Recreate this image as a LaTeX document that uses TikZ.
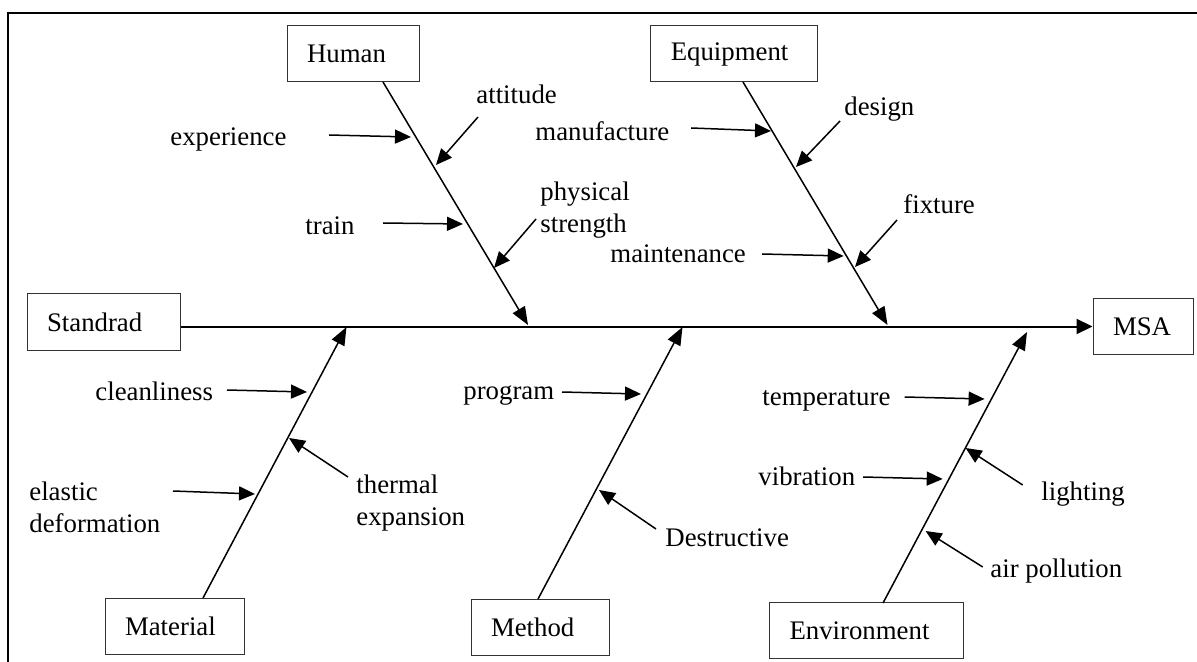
\documentclass[tikz,border=0pt]{standalone}
\usepackage{fontspec}
\setmainfont{Liberation Serif}
\usetikzlibrary{arrows.meta}

\begin{document}
\begin{tikzpicture}[x=0.5pt,y=-0.5pt,font=\fontsize{13.4}{16}\selectfont,
	cause/.style={draw=black!80,line width=0.5pt,minimum height=28pt,inner xsep=10pt,text width=#1,align=left},
	bone/.style={line width=0.75pt,-{Triangle[length=9pt,width=7pt]}},
	sub/.style={line width=0.75pt,-{Triangle[length=8pt,width=7pt]}},
	lbl/.style={anchor=west,align=left,inner sep=0pt}]
					\useasboundingbox (0,0) rectangle (1197,662);
					\draw[line width=1pt] (8,670) -- (8,13) -- (1205,13);
					% causes
					\node[cause=56.5pt] (std) at (103.5,322) {Standrad};
					\node[cause=46pt] (hum) at (353,54) {Human};
					\node[cause=63.5pt] (eqp) at (734.3,54) {Equipment};
					\node[cause=30pt] (msa) at (1143,326.5) {MSA};
					\node[cause=49.5pt] (mat) at (174.5,626) {Material};
					\node[cause=49pt] (met) at (540,627) {Method};
					\node[cause=77pt] (env) at (866.5,630.5) {Environment};
					% spine and bones
					\draw[line width=1pt,-{Triangle[length=8pt,width=7.5pt]}] (std.east |- msa.west) -- (msa.west);
					\foreach \n/\a/\b/\c/\d in {hum/383/82/528/325, eqp/743/82/887.5/325, mat/203/598/346.5/327, met/538/599/682.5/327, env/883/603/1027/332}
					{
						\coordinate (\n-s) at (\a,\b);
						\coordinate (\n-e) at (\c,\d);
						\draw[bone] (\n-s) -- (\n-e);
					}
					% labels
					\foreach \n/\t/\x/\y in {exp/experience/170/139, att/attitude/476/94, trn/train/305/226, phy/{physical\\strength}/540/210,
						man/manufacture/535/131, dsg/design/844/109, mnt/maintenance/610/254, fix/fixture/903/204,
						cln/cleanliness/95/391, thm/{thermal\\expansion}/356/503, ela/{elastic\\deformation}/29/507,
						prg/program/463/396, dst/Destructive/665/538,
						tmp/temperature/762/401, vib/vibration/758/476, lgt/lighting/1041/494, air/air pollution/990/571}
						\node[lbl] (\n) at (\x,\y) {\t};
					% sub causes
					\foreach \n/\a/\b/\c/\d in {exp/329/135/411/137, att/478/117/436/165, trn/383/223/463/224, phy/536/219/494/268,
						man/691/128/771/131, dsg/840/121/796/167, mnt/762/254/843.7/256, fix/897/220/855/267,
						cln/227/390/307/392, thm/348/477/289/438, ela/173/491/255/494,
						prg/562/392/641/394, dst/656/529/599/490,
						tmp/904.6/397/984.6/399, vib/863/477/942.7/479, lgt/1022.7/485/965.6/448, air/982.7/567/925.6/531}
					{
						\coordinate (\n-a) at (\a,\b);
						\coordinate (\n-b) at (\c,\d);
						\draw[sub] (\n-a) -- (\n-b);
					}
\end{tikzpicture}
\end{document}
